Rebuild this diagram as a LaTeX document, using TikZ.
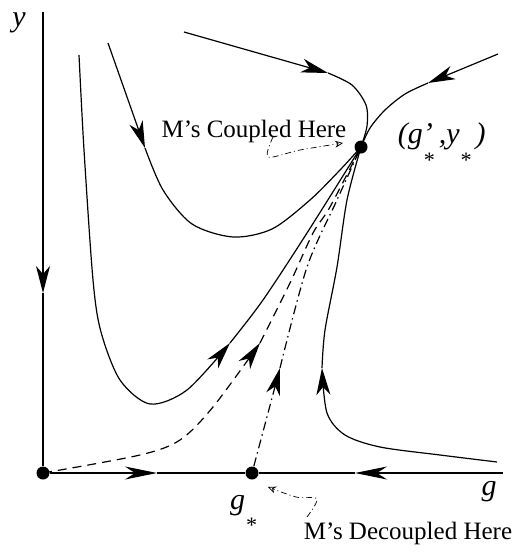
\documentclass[tikz,border=0pt]{standalone}
\usepackage{fontspec}
\setmainfont{Liberation Serif}
\usetikzlibrary{arrows.meta}

\begin{document}
\begin{tikzpicture}[
  x=1pt,y=-1pt,
  line width=1.2pt,
  fixpt/.style={circle,fill=black,inner sep=0pt,minimum size=13pt},
  arr/.style={-{Stealth[length=27pt,width=14pt,inset=8pt]}},
  axarr/.style={-{Stealth[length=32pt,width=13pt,inset=10pt]}},
  dashline/.style={dash pattern=on 9pt off 6pt},
  dotline/.style={dash pattern=on 9pt off 4pt on 1.5pt off 4pt},
  note/.style={line width=0.7pt,dash pattern=on 6pt off 3pt on 1pt off 3pt,-{Stealth[open,length=8pt,width=7pt]}},
  lbl/.style={font=\fontsize{25}{25}\selectfont},
  var/.style={font=\fontsize{30}{30}\selectfont\itshape}
]
  \useasboundingbox (0,0) rectangle (518,554);
  \node[fixpt] (O) at (43,473) {};
  \node[fixpt] (gs) at (252,473) {};
  \node[fixpt] (fp) at (361,147) {};
  \coordinate (ytop) at (43,12);
  \coordinate (yarr) at (43,293);
  \coordinate (xend) at (503,473);
  \coordinate (xarrR) at (157,473);
  \coordinate (xarrL) at (355,473);
  \draw[arr] (ytop) -- (yarr);
  \draw (yarr) -- (O);
  \draw[axarr] (O) -- (xarrR);
  \draw (xarrR) -- (gs);
  \draw[axarr] (xend) -- (xarrL);
  \draw (xarrL) -- (gs);
  \node[var] (ylab) at (19,23) {y};
  \node[var] (glab) at (489,492) {g};
  \node[var] (gslab) at (243,514) {g\raisebox{-23pt}{\fontsize{22}{22}\selectfont *}};
  \node[var,anchor=west] (fplab) at (394,145) {(g\rlap{’}\raisebox{-24pt}{\fontsize{22}{22}\selectfont *}\,,y\raisebox{-24pt}{\fontsize{22}{22}\selectfont *}\,)};
  \node[lbl] (cpl) at (254,131) {M’s Coupled Here};
  \node[lbl] (dcpl) at (408,533) {M’s Decoupled Here};
  % flow lines into the fixed point
  \coordinate (t1) at (184,32);
  \coordinate (t1a) at (328,73);
  \draw[arr] (t1) -- (t1a);
  \draw plot[smooth] coordinates {(t1a) (352,85) (366,105) (367,126) (fp.center)};
  \coordinate (t2) at (498,54);
  \coordinate (t2a) at (428,83);
  \draw[arr] (t2) -- (t2a);
  \draw plot[smooth] coordinates {(t2a) (405,94) (385,110) (370,128) (fp.center)};
  % flow lines out of the fixed point
  \coordinate (a1) at (108,43);
  \coordinate (a1a) at (145,148);
  \draw[arr] (a1) -- (a1a);
  \draw plot[smooth] coordinates {(a1a) (163,190) (192,224) (233,237) (272,229) (310,200) (340,170) (fp.center)};
  \coordinate (b1) at (79,55);
  \coordinate (b1a) at (230,343);
  \draw[arr] plot[smooth] coordinates {(b1) (84,150) (93,280) (101,332) (120,380) (150,404) (187,390) (b1a)};
  \draw plot[smooth] coordinates {(b1a) (263,300) (307,233) (fp.center)};
  \coordinate (c1a) at (260,343);
  \draw[arr,dashline] plot[smooth] coordinates {(O.center) (140,455) (180,440) (213,407) (c1a)};
  \draw[dashline] plot[smooth] coordinates {(c1a) (290,283) (313,233) (330,207) (fp.center)};
  \coordinate (d1a) at (280,368);
  \draw[arr,dotline] (gs) -- (d1a);
  \draw[dotline] plot[smooth] coordinates {(d1a) (307,267) (337,200) (fp.center)};
  \coordinate (e1) at (497,462);
  \coordinate (e1a) at (322,368);
  \draw[arr] plot[smooth] coordinates {(e1) (440,455) (380,447) (345,435) (327,413) (e1a)};
  \draw plot[smooth] coordinates {(e1a) (325,330) (337,267) (347,200) (fp.center)};
  % pointers from the labels
  \coordinate (n1) at (273,137);
  \coordinate (n1a) at (343,143);
  \draw[note] plot[smooth] coordinates {(n1) (268,157) (300,150) (n1a)};
  \coordinate (n2) at (307,517);
  \coordinate (n2a) at (268,487);
  \draw[note] plot[smooth] coordinates {(n2) (317,499) (296,497) (n2a)};
\end{tikzpicture}
\end{document}
